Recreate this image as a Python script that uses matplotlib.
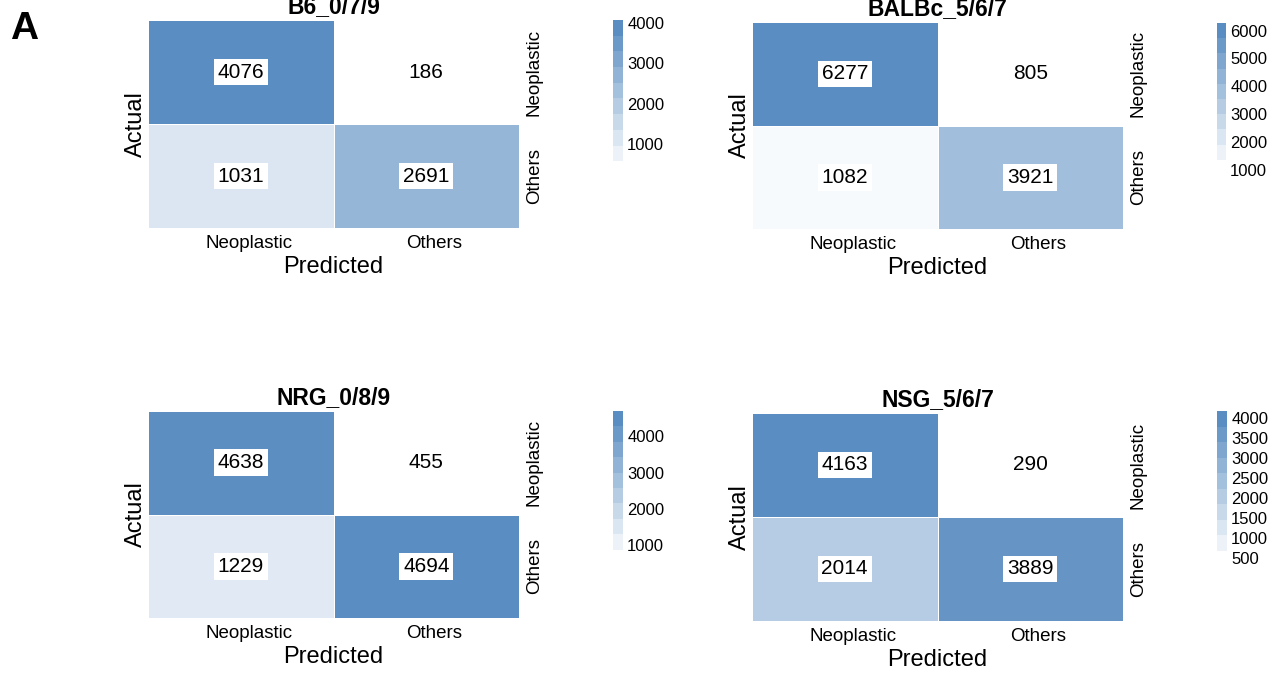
import matplotlib
matplotlib.use("Agg")
import matplotlib.pyplot as plt
import matplotlib.transforms as mtransforms
import numpy as np
from matplotlib.colors import LinearSegmentedColormap, Normalize
from matplotlib.cm import ScalarMappable

plt.rcParams['font.family'] = ['Liberation Sans', 'DejaVu Sans']

# confusion matrices (rows = actual, cols = predicted)
classes = ["Neoplastic", "Others"]
titles = ["B6_0/7/9", "BALBc_5/6/7", "NRG_0/8/9", "NSG_5/6/7"]
b6 = [[4076, 186], [1031, 2691]]
balbc = [[6277, 805], [1082, 3921]]
nrg = [[4638, 455], [1229, 4694]]
nsg = [[4163, 290], [2014, 3889]]
matrices = [b6, balbc, nrg, nsg]
cbar_ticks = [
    [1000, 2000, 3000, 4000],
    [1000, 2000, 3000, 4000, 5000, 6000],
    [1000, 2000, 3000, 4000],
    [500, 1000, 1500, 2000, 2500, 3000, 3500, 4000],
]

W, H = 1279, 673
fig = plt.figure(figsize=(W / 100, H / 100), dpi=100)


def px_rect(x0, y0, x1, y1):
    return [x0 / W, 1 - y1 / H, (x1 - x0) / W, (y1 - y0) / H]


heat_boxes = [(148, 20, 519, 228), (752, 22, 1123, 229),
              (148, 411, 519, 618), (752, 413, 1123, 621)]
cbar_boxes = [(613, 20, 623, 177), (1217, 23, 1226, 175),
              (613, 411, 623, 565), (1217, 411, 1227, 566)]

cmap = LinearSegmentedColormap.from_list("blues", ["#ffffff", "#5a8dc1"])
shift = mtransforms.ScaledTranslation(8 / 100, 0, fig.dpi_scale_trans)

for m, title, ticks, hb, cbx in zip(matrices, titles, cbar_ticks, heat_boxes, cbar_boxes):
    data = np.array(m)
    norm = Normalize(vmin=data.min(), vmax=data.max())

    ax = fig.add_axes(px_rect(*hb))
    ax.pcolormesh(data, cmap=cmap, norm=norm, edgecolors="white", linewidth=0.6)
    ax.set_xlim(0, 2)
    ax.set_ylim(2, 0)
    for i in range(2):
        for j in range(2):
            ax.text(j + 0.5, i + 0.5, str(data[i, j]), ha="center", va="center",
                    fontsize=15, color="black",
                    bbox=dict(boxstyle="square,pad=0.18", fc="white", ec="none"))
    for s in ax.spines.values():
        s.set_visible(False)
    ax.set_xticks([0.5, 1.5])
    ax.set_xticklabels(classes, fontsize=13.5)
    ax.set_yticks([0.5, 1.5])
    ax.set_yticklabels(classes, fontsize=13.5, rotation=90, va="center")
    ax.yaxis.tick_right()
    ax.yaxis.set_label_position("left")
    ax.tick_params(length=0)
    ax.tick_params(axis="x", pad=5)
    ax.tick_params(axis="y", pad=5)
    for lab in ax.get_xticklabels():
        lab.set_transform(lab.get_transform() + shift)
    ax.set_xlabel("Predicted", fontsize=17, labelpad=3)
    ax.set_ylabel("Actual", fontsize=17, labelpad=1)
    ax.set_title(title, fontsize=16.5, fontweight="bold", pad=5)

    # stepped legend bar
    cax = fig.add_axes(px_rect(*cbx))
    sm = ScalarMappable(norm=norm, cmap=cmap.resampled(10))
    cb = fig.colorbar(sm, cax=cax)
    cb.outline.set_visible(False)
    cb.set_ticks(ticks)
    cax.tick_params(length=0, labelsize=12, pad=3)

fig.text(10 / W, 1 - 39 / H, "A", fontsize=28, fontweight="bold", va="baseline")

fig.savefig("out.png", dpi=100)
